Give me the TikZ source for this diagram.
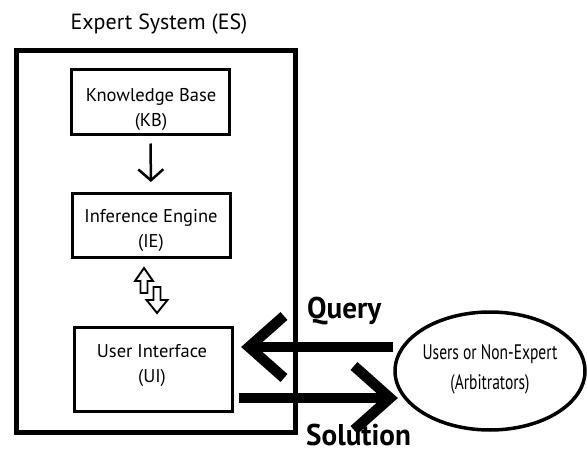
\documentclass[tikz,border=0pt]{standalone}
\usepackage{fontspec}
\setmainfont{PT Sans}
\newfontfamily\condfont[FakeStretch=0.74]{PT Sans}
\newfontfamily\labfont[FakeStretch=0.97]{PT Sans}
\usetikzlibrary{arrows.meta,shapes.geometric,calc}
\begin{document}
\begin{tikzpicture}[x=1pt,y=-1pt,
  inbox/.style={draw, line width=3pt, rectangle, minimum width=158pt, inner sep=0pt},
  boxtext/.style={align=center, font=\fontsize{18.5}{25}\selectfont, inner sep=0pt},
  fat/.style={line width=10.5pt, line join=miter},
  hollow/.style={draw, line width=1.9pt, line join=miter, fill=white},
  lab/.style={font=\labfont\bfseries\fontsize{30}{32}\selectfont, anchor=base west, inner sep=0pt}]
\useasboundingbox (0,0) rectangle (587,452);
% outer box
\node[draw, line width=5pt, rectangle, minimum width=279pt, minimum height=382pt, inner sep=0pt] (es) at (155.5,241.25) {};
\node[font=\fontsize{22}{26}\selectfont, inner sep=0pt] (title) at (159,24) {Expert System (ES)};
% inner boxes
\node[inbox, minimum height=64.5pt] (kb) at (150.5,102.25) {};
\node[boxtext] (kbt) at (151,109) {Knowledge Base\\(KB)};
\node[inbox, minimum height=64pt] (ie) at (151,225.5) {};
\node[boxtext] (iet) at (151,230) {Inference Engine\\(IE)};
\node[inbox, minimum height=84pt] (ui) at (153.5,369.5) {};
\node[boxtext] (uit) at (152,366) {User Interface\\(UI)};
% ellipse
\node[draw, ellipse, line width=3.5pt, minimum width=190pt, minimum height=118pt, inner sep=0pt] (users) at (490,371) {};
\node[align=center, inner sep=0pt, font=\condfont\fontsize{21}{30}\selectfont] (userst) at (490,369) {Users or Non-Expert\\(Arbitrators)};
% KB -> IE
\draw[line width=2.5pt, shorten <=7.5pt, shorten >=10pt, -{Straight Barb[length=11pt,width=25pt]}] (kb.south) -- (ie.north);
% hollow double arrow IE <-> UI
\draw[hollow] (144,268) -- (153,281) -- (147.5,281) -- (147.5,293) -- (140.5,293) -- (140.5,281) -- (135,281) -- cycle;
\draw[hollow] (157,313) -- (167.5,300) -- (160.5,300) -- (160.5,287) -- (153.5,287) -- (153.5,300) -- (146.5,300) -- cycle;
% Query arrow
\coordinate (qtip) at (249,347);
\draw[fat] (users.west |- qtip) -- (qtip);
\draw[fat] ($(qtip)+(35,-31)$) -- (qtip) -- ($(qtip)+(35,31)$);
% Solution arrow
\coordinate (stip) at (390,398);
\draw[fat] ($(ui.east |- stip)+(5,0)$) -- (stip);
\draw[fat] ($(stip)+(-36,-32)$) -- (stip) -- ($(stip)+(-36,32)$);
% labels
\node[lab] (query) at (307,318) {Query};
\node[lab] (solution) at (306,445) {Solution};
\end{tikzpicture}
\end{document}
